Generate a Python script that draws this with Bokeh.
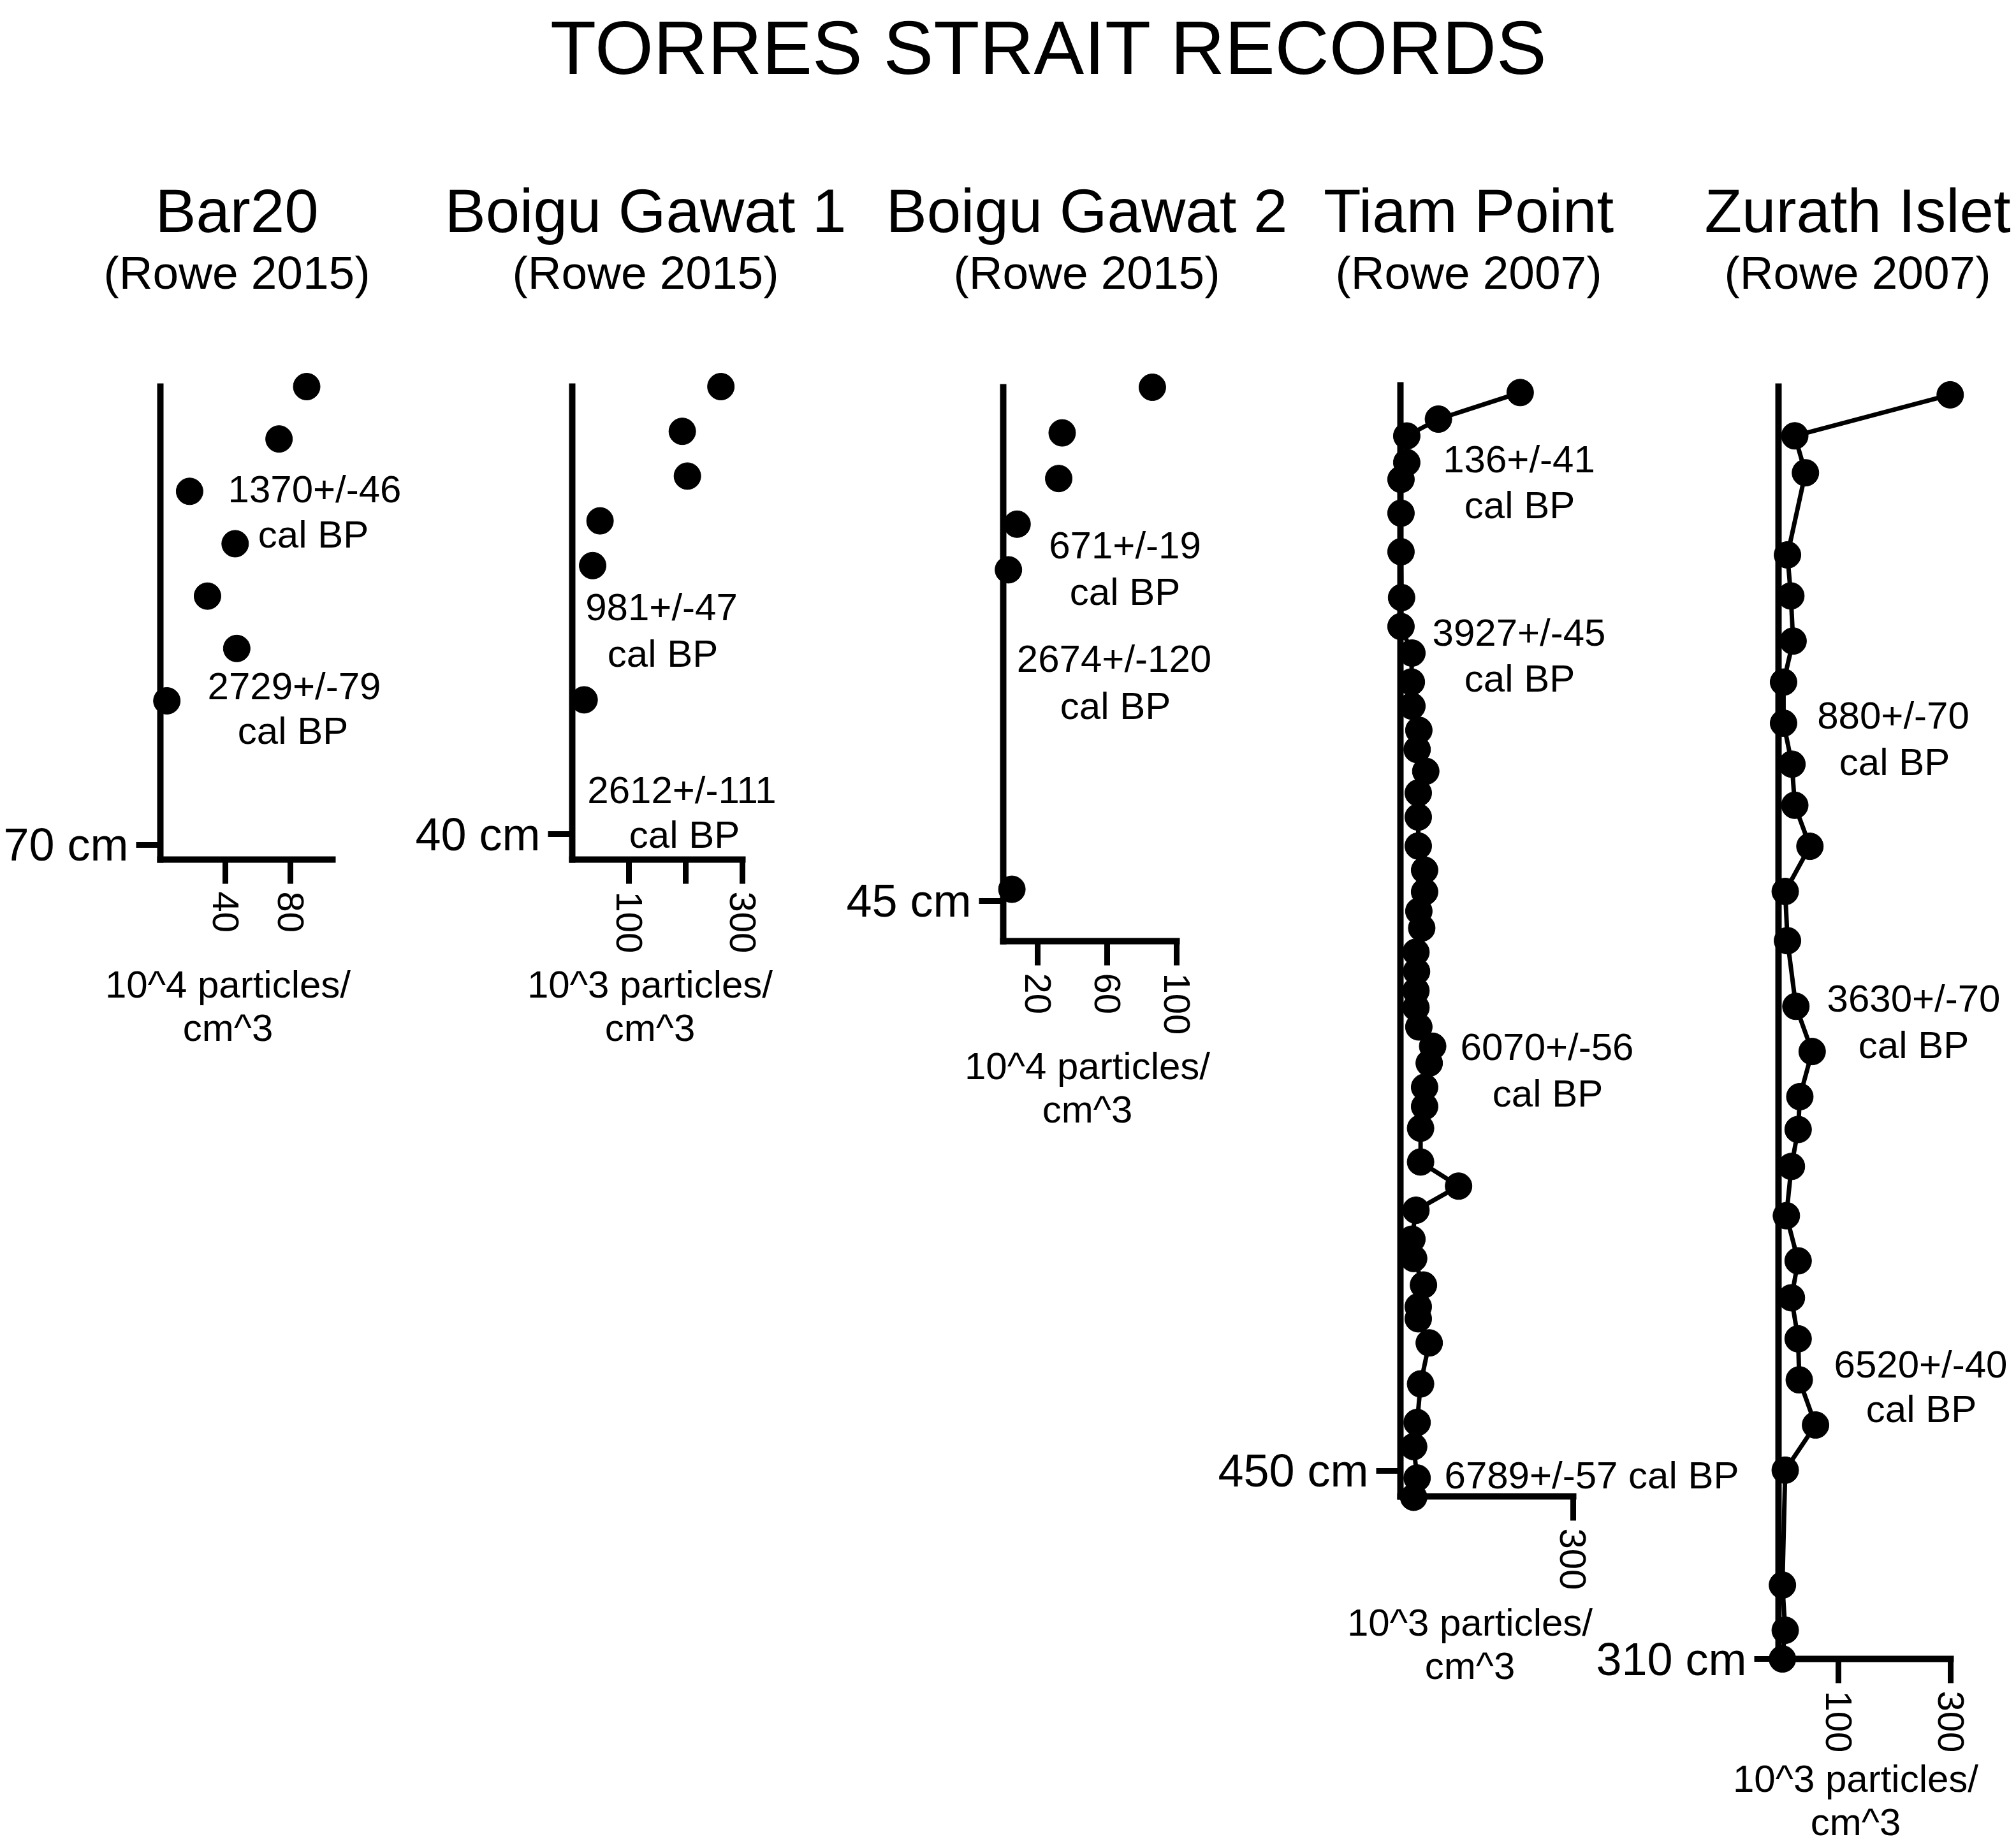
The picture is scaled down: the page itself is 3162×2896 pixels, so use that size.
import math
from bokeh.plotting import figure
from bokeh.models import Range1d, LinearAxis, FixedTicker, Label
from bokeh.embed import file_html
from bokeh.resources import INLINE

# ---------------- data ----------------
bar20_depth = [0, 8, 16, 24, 32, 40, 48]
bar20_conc = [90, 73, 18, 46, 29, 47, 4]
bar20_xticks = [40, 80]
bar20_depth_tick = 70

bg1_depth = [0, 4, 8, 12, 16, 28]
bg1_conc = [262, 194, 203, 49, 36, 21]
bg1_xticks = [100, 200, 300]
bg1_depth_tick = 40

bg2_depth = [0, 4, 8, 12, 16, 44]
bg2_conc = [86, 34, 32, 8, 3, 5]
bg2_xticks = [20, 60, 100]
bg2_depth_tick = 45

tiam_depth = [3, 14, 21, 32, 39, 53, 69, 88, 100, 111, 123, 133, 143, 151, 160,
              169, 179, 191, 201, 210, 218, 225, 235, 243, 251, 258, 266, 274,
              281, 291, 299, 308, 322, 332, 342, 354, 362, 373, 382, 387, 397,
              414, 430, 440, 453, 461]
tiam_conc = [208, 66, 11, 11, 1, 1, 1, 2, 1, 20, 19, 20, 32, 29, 44,
             31, 31, 31, 42, 42, 32, 37, 27, 28, 27, 27, 32, 56,
             50, 42, 42, 35, 35, 101, 27, 20, 23, 40, 31, 31, 50,
             35, 29, 23, 29, 23]
tiam_xticks = [300]
tiam_depth_tick = 450

zurath_depth = [2, 12, 21, 41, 51, 62, 72, 82, 92, 102, 112, 123, 135, 151, 162,
                173, 181, 190, 202, 213, 222, 232, 242, 253, 264, 292, 303, 310]
zurath_conc = [299, 22, 41, 9, 15, 19, 2, 2, 17, 22, 49, 5, 9, 24, 53,
               31, 28, 16, 7, 28, 16, 28, 30, 59, 5, 0, 5, 0]
zurath_xticks = [100, 300]
zurath_depth_tick = 310

main_title = "TORRES STRAIT RECORDS"
site_names = ["Bar20", "Boigu Gawat 1", "Boigu Gawat 2", "Tiam Point", "Zurath Islet"]
site_refs = ["(Rowe 2015)", "(Rowe 2015)", "(Rowe 2015)", "(Rowe 2007)", "(Rowe 2007)"]
unit_labels = ["10^4 particles/", "10^3 particles/", "10^4 particles/",
               "10^3 particles/", "10^3 particles/"]

# ---------------- layout / style ----------------
W, H = 3162, 2896
M = 0  # the bokeh page template has no body margin
FONT = "Liberation Sans"

panels = [
    dict(name="bar20", depth=bar20_depth, conc=bar20_conc, xticks=bar20_xticks,
         dtick=bar20_depth_tick, line=False,
         ax_px=251, ax_val=0, kx=2.55, top_px=606, ky=10.27, ybot=72.25, xend=106),
    dict(name="bg1", depth=bg1_depth, conc=bg1_conc, xticks=bg1_xticks,
         dtick=bg1_depth_tick, line=False, hide={200: ""},
         ax_px=897, ax_val=0, kx=0.89, top_px=606, ky=17.55, ybot=42.28, xend=300),
    dict(name="bg2", depth=bg2_depth, conc=bg2_conc, xticks=bg2_xticks,
         dtick=bg2_depth_tick, line=False,
         ax_px=1573, ax_val=0, kx=2.72, top_px=607, ky=17.9, ybot=48.55, xend=100),
    dict(name="tiam", depth=tiam_depth, conc=tiam_conc, xticks=tiam_xticks,
         dtick=tiam_depth_tick, line=True,
         ax_px=2196, ax_val=0, kx=0.903, top_px=604, ky=3.784, ybot=460.6, xend=300),
    dict(name="zurath", depth=zurath_depth, conc=zurath_conc, xticks=zurath_xticks,
         dtick=zurath_depth_tick, line=True,
         ax_px=2789, ax_val=-7, kx=0.88, top_px=606, ky=6.439, ybot=310, xend=300),
]

p = figure(width=W, height=H,
           x_range=Range1d(M, M + W), y_range=Range1d(M + H, M),
           x_axis_type=None, y_axis_type=None,
           toolbar_location=None, output_backend="svg", min_border=0)
p.outline_line_color = None
p.background_fill_color = "white"
p.border_fill_color = "white"

xr, yr = {}, {}
for pn in panels:
    n = pn["name"]
    xr["x_" + n] = Range1d(pn["ax_val"] + (M - pn["ax_px"]) / pn["kx"],
                           pn["ax_val"] + (M + W - pn["ax_px"]) / pn["kx"])
    yr["y_" + n] = Range1d((M + H - pn["top_px"]) / pn["ky"],
                           (M - pn["top_px"]) / pn["ky"])
p.extra_x_ranges = xr
p.extra_y_ranges = yr

AXW = 10
for pn in panels:
    n = pn["name"]
    xn, yn = "x_" + n, "y_" + n
    # depth axis
    ya = LinearAxis(x_range_name=xn, y_range_name=yn,
                    fixed_location=pn["ax_val"], bounds=(0, pn["ybot"]),
                    ticker=FixedTicker(ticks=[pn["dtick"]]),
                    major_label_overrides={pn["dtick"]: f"{pn['dtick']} cm"},
                    axis_line_width=AXW, axis_line_cap="square",
                    major_tick_line_width=9, major_tick_out=38, major_tick_in=0,
                    minor_tick_out=0, minor_tick_in=0,
                    major_label_standoff=12,
                    major_label_text_font=FONT, major_label_text_font_size="72px",
                    major_label_text_color="black")
    p.add_layout(ya, "left")
    # concentration axis
    xa = LinearAxis(x_range_name=xn, y_range_name=yn,
                    fixed_location=pn["ybot"], bounds=(pn["ax_val"], pn["xend"]),
                    ticker=FixedTicker(ticks=pn["xticks"]),
                    major_label_overrides=pn.get("hide", {}),
                    major_label_orientation=-math.pi / 2,
                    axis_line_width=AXW, axis_line_cap="square",
                    major_tick_line_width=9, major_tick_out=38, major_tick_in=0,
                    minor_tick_out=0, minor_tick_in=0,
                    major_label_standoff=12,
                    major_label_text_font=FONT, major_label_text_font_size="58px",
                    major_label_text_color="black")
    p.add_layout(xa, "below")
    if pn["line"]:
        p.line(pn["conc"], pn["depth"], x_range_name=xn, y_range_name=yn,
               line_color="black", line_width=7)
    p.scatter(pn["conc"], pn["depth"], x_range_name=xn, y_range_name=yn,
              marker="circle", size=42, fill_color="black", line_color="black")


def lab(text, x, y, size, align="center"):
    p.add_layout(Label(x=x, y=y, text=text, text_font=FONT,
                       text_font_size=f"{size}px", text_align=align,
                       text_baseline="middle", text_color="black"))


lab(main_title, 1645, 74, 118)

title_x = [371, 1012, 1704, 2303, 2913]
for name, ref, unit, tx in zip(site_names, site_refs, unit_labels, title_x):
    lab(name, tx, 330, 96)
    lab(ref, tx, 427, 73)

unit_pos = [(357, 1544), (1019, 1544), (1705, 1672), (2305, 2545), (2910, 2790)]
for unit, (ux, uy) in zip(unit_labels, unit_pos):
    lab(unit, ux, uy, 60)
    lab("cm^3", ux, uy + 68, 60)

notes = [
    ("1370+/-46", 493, 767), ("cal BP", 491, 838),
    ("2729+/-79", 461, 1076), ("cal BP", 459, 1146),
    ("981+/-47", 1037, 952), ("cal BP", 1039, 1025),
    ("2612+/-111", 1069, 1239), ("cal BP", 1073, 1309),
    ("671+/-19", 1764, 855), ("cal BP", 1764, 928),
    ("2674+/-120", 1747, 1033), ("cal BP", 1749, 1107),
    ("136+/-41", 2382, 720), ("cal BP", 2383, 792),
    ("3927+/-45", 2382, 992), ("cal BP", 2383, 1064),
    ("6070+/-56", 2426, 1642), ("cal BP", 2427, 1715),
    ("6789+/-57 cal BP", 2496, 2314),
    ("880+/-70", 2969, 1122), ("cal BP", 2971, 1195),
    ("3630+/-70", 3001, 1566), ("cal BP", 3001, 1639),
    ("6520+/-40", 3012, 2140), ("cal BP", 3013, 2210),
]
for t, x, y in notes:
    lab(t, x, y, 60)

open("out.html", "w").write(file_html(p, INLINE))
